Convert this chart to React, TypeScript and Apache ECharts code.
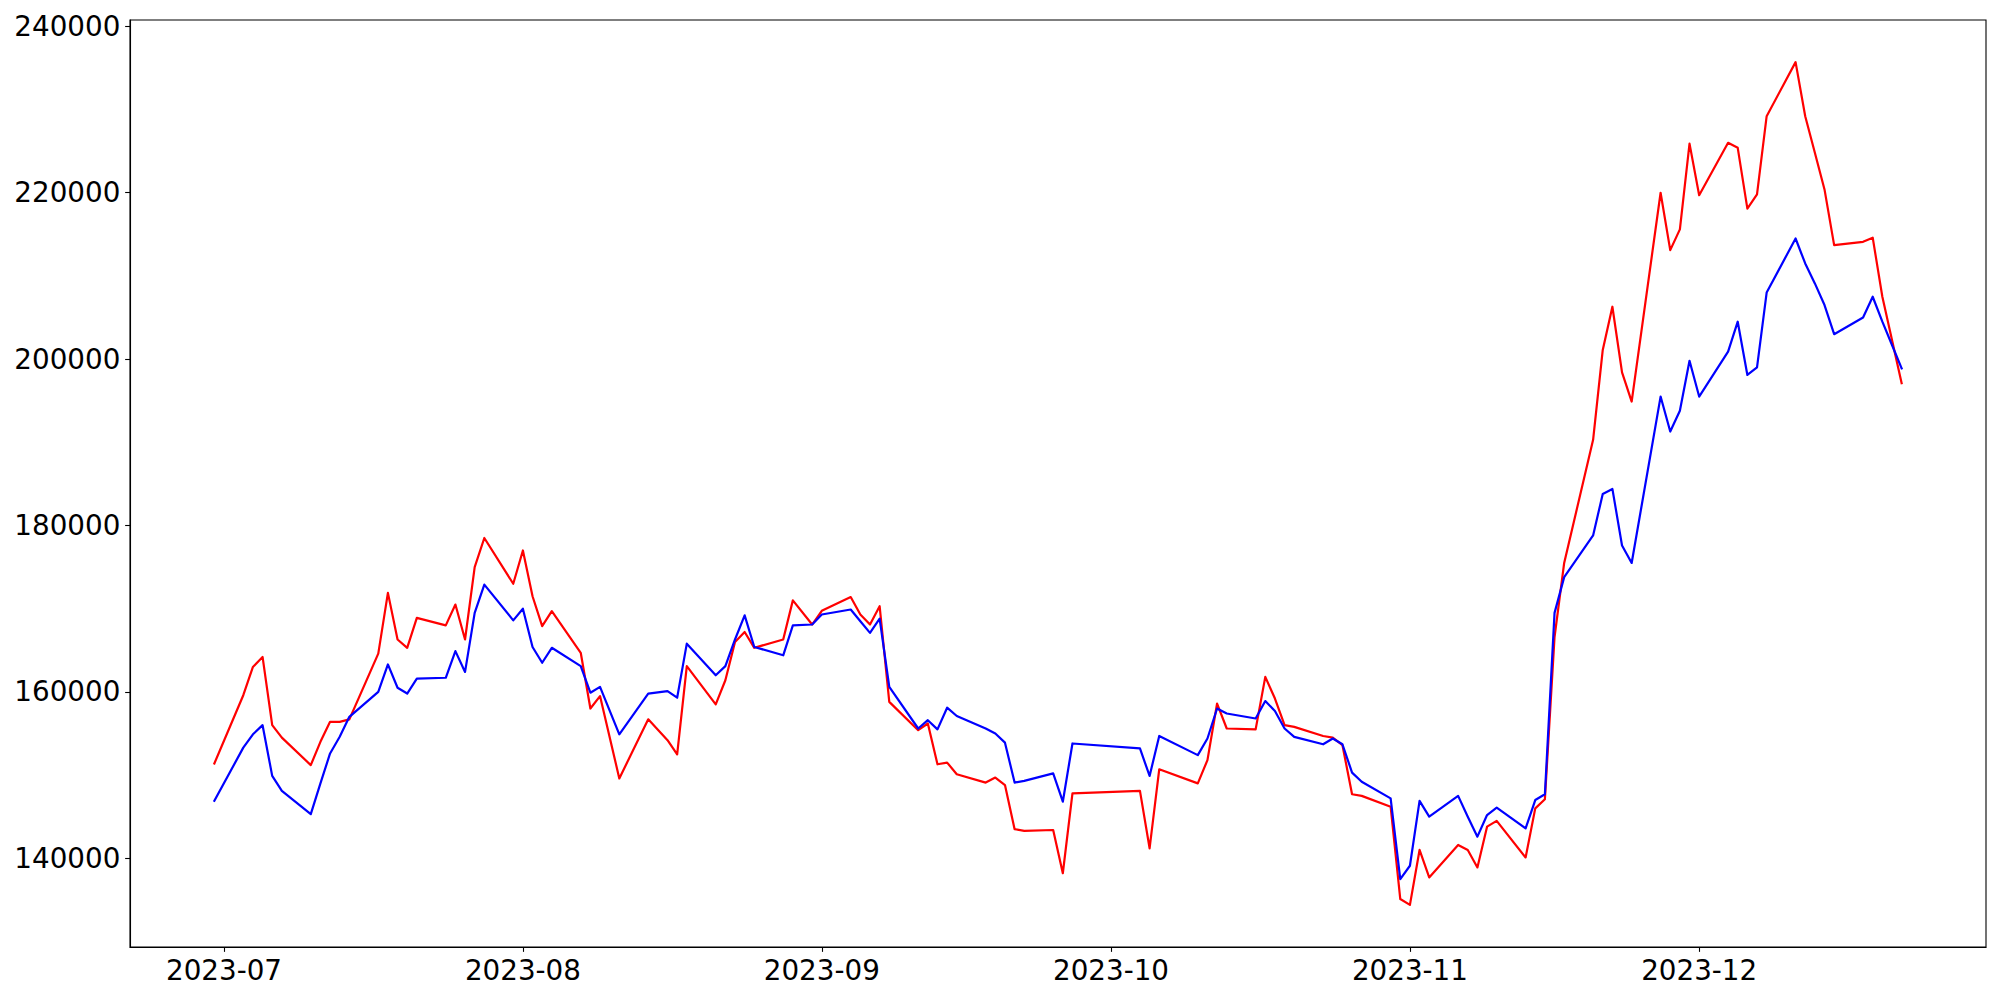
import React, { useEffect, useRef } from "react";
import * as echarts from "echarts";

const dates: string[] = [
  "2023-06-30",
  "2023-07-03", "2023-07-04", "2023-07-05", "2023-07-06", "2023-07-07",
  "2023-07-10", "2023-07-11", "2023-07-12", "2023-07-13", "2023-07-14",
  "2023-07-17", "2023-07-18", "2023-07-19", "2023-07-20", "2023-07-21",
  "2023-07-24", "2023-07-25", "2023-07-26", "2023-07-27", "2023-07-28",
  "2023-07-31", "2023-08-01", "2023-08-02", "2023-08-03", "2023-08-04",
  "2023-08-07", "2023-08-08", "2023-08-09", "2023-08-11",
  "2023-08-14", "2023-08-16", "2023-08-17", "2023-08-18",
  "2023-08-21", "2023-08-22", "2023-08-23", "2023-08-24", "2023-08-25",
  "2023-08-28", "2023-08-29", "2023-08-31", "2023-09-01",
  "2023-09-04", "2023-09-05", "2023-09-06", "2023-09-07", "2023-09-08",
  "2023-09-11", "2023-09-12", "2023-09-13", "2023-09-14", "2023-09-15",
  "2023-09-18", "2023-09-19", "2023-09-20", "2023-09-21", "2023-09-22",
  "2023-09-25", "2023-09-26", "2023-09-27",
  "2023-10-04", "2023-10-05", "2023-10-06",
  "2023-10-10", "2023-10-11", "2023-10-12", "2023-10-13",
  "2023-10-16", "2023-10-17", "2023-10-18", "2023-10-19", "2023-10-20",
  "2023-10-23", "2023-10-24", "2023-10-25", "2023-10-26", "2023-10-27",
  "2023-10-30", "2023-10-31", "2023-11-01", "2023-11-02", "2023-11-03",
  "2023-11-06", "2023-11-07", "2023-11-08", "2023-11-09", "2023-11-10",
  "2023-11-13", "2023-11-14", "2023-11-15", "2023-11-16", "2023-11-17",
  "2023-11-20", "2023-11-21", "2023-11-22", "2023-11-23", "2023-11-24",
  "2023-11-27", "2023-11-28", "2023-11-29", "2023-11-30", "2023-12-01",
  "2023-12-04", "2023-12-05", "2023-12-06", "2023-12-07", "2023-12-08",
  "2023-12-11", "2023-12-12", "2023-12-13", "2023-12-14", "2023-12-15",
  "2023-12-18", "2023-12-19", "2023-12-20", "2023-12-21", "2023-12-22",
];

const redValues: number[] = [
  151400,
  159600, 163000, 164200, 156000, 154500,
  151200, 154000, 156400, 156400, 156700,
  164600, 171900, 166300, 165300, 168900,
  168000, 170500, 166300, 175000, 178500,
  173000, 177000, 171500, 167900, 169700,
  164700, 158000, 159500, 149600,
  156700, 154200, 152500, 163100,
  158500, 161400, 166000, 167200, 165300,
  166300, 171000, 168100, 169750,
  171400, 169300, 168100, 170300, 158800,
  155400, 156200, 151300, 151500, 150100,
  149100, 149700, 148800, 143500, 143300,
  143400, 138200, 147800,
  148100, 141200, 150700,
  149000, 151800, 158600, 155600,
  155500, 161800, 159200, 156000, 155800,
  154700, 154500, 153600, 147700, 147500,
  146200, 135100, 134400, 141000, 137700,
  141600, 141000, 138900, 143800, 144500,
  140100, 146000, 147100, 166600, 175500,
  190300, 201100, 206300, 198400, 194900,
  220000, 213100, 215600, 225900, 219700,
  226000, 225400, 218100, 219800, 229200,
  235700, 229200, 224800, 220400, 213700,
  214100, 214600, 207500, 202300, 197100,
];

const blueValues: number[] = [
  146900,
  153300, 154900, 156000, 149900, 148100,
  145300, 149000, 152600, 154600, 157000,
  160000, 163300, 160500, 159800, 161600,
  161700, 164900, 162400, 169500, 172900,
  168600, 170000, 165400, 163500, 165300,
  163100, 159900, 160600, 154900,
  159800, 160100, 159300, 165800,
  162000, 163100, 166300, 169200, 165400,
  164400, 168000, 168100, 169300,
  169900, 168500, 167100, 168800, 160600,
  155600, 156600, 155500, 158100, 157100,
  155600, 155000, 153900, 149100, 149300,
  150200, 146800, 153800,
  153200, 149900, 154700,
  152400, 154400, 158000, 157400,
  156800, 158900, 157700, 155600, 154600,
  153700, 154400, 153700, 150300, 149200,
  147200, 137500, 139100, 146900, 145000,
  147500, 145000, 142600, 145200, 146100,
  143600, 147000, 147700, 169500, 173800,
  178800, 183800, 184400, 177600, 175500,
  195500, 191300, 193800, 199800, 195500,
  200900, 204500, 198100, 199000, 208000,
  214500, 211500, 209100, 206500, 203000,
  205000, 207500, 204500, 201700, 198900,
];

const yTicks: number[] = [140000, 160000, 180000, 200000, 220000, 240000];
const xTickDates: string[] = ["2023-07-01", "2023-08-01", "2023-09-01", "2023-10-01", "2023-11-01", "2023-12-01"];

const DAY = 86400000;
const parseDay = (s: string): number => {
  const [y, m, d] = s.split("-").map(Number);
  return Date.UTC(y, m - 1, d) / DAY;
};
const formatDay = (v: number): string => {
  const dt = new Date(Math.round(v) * DAY);
  const y = dt.getUTCFullYear();
  const m = dt.getUTCMonth() + 1;
  return `${y}-${m < 10 ? "0" + m : m}`;
};

export default function App() {
  const ref = useRef<HTMLDivElement>(null);

  useEffect(() => {
    if (!ref.current) return;
    const chart = echarts.init(ref.current, undefined, { renderer: "svg" });
    const t0 = parseDay(dates[0]);
    const t1 = parseDay(dates[dates.length - 1]);
    const pad = (t1 - t0) * 0.05;
    const allVals = redValues.concat(blueValues);
    const vMin = Math.min(...allVals);
    const vMax = Math.max(...allVals);
    const vPad = (vMax - vMin) * 0.05;
    const xTicks = xTickDates.map(parseDay);
    const fontSize = 27.78;
    const fontFamily = "DejaVu Sans";

    chart.setOption({
      animation: false,
      backgroundColor: "#ffffff",
      grid: {
        left: 130,
        right: 14,
        top: 20,
        bottom: 53,
        show: true,
        borderColor: "#000000",
        borderWidth: 1.1,
        containLabel: false,
      },
      xAxis: {
        type: "value",
        min: t0 - pad,
        max: t1 + pad,
        scale: true,
        splitLine: { show: false },
        axisLine: { show: true, onZero: false, lineStyle: { color: "#000000", width: 1.1 } },
        axisTick: {
          show: true,
          length: 4.86,
          inside: false,
          lineStyle: { color: "#000000", width: 1.1 },
          customValues: xTicks,
        },
        axisLabel: {
          show: true,
          margin: 9.7,
          color: "#000000",
          fontSize,
          fontFamily,
          customValues: xTicks,
          formatter: (v: number) => formatDay(v),
        },
      },
      yAxis: {
        type: "value",
        min: vMin - vPad,
        max: vMax + vPad,
        scale: true,
        splitLine: { show: false },
        axisLine: { show: true, onZero: false, lineStyle: { color: "#000000", width: 1.1 } },
        axisTick: {
          show: true,
          length: 4.86,
          inside: false,
          lineStyle: { color: "#000000", width: 1.1 },
          customValues: yTicks,
        },
        axisLabel: {
          show: true,
          margin: 9.7,
          color: "#000000",
          fontSize,
          fontFamily,
          customValues: yTicks,
          formatter: (v: number) => String(Math.round(v)),
        },
      },
      series: [
        {
          name: "red",
          type: "line",
          showSymbol: false,
          symbol: "none",
          data: dates.map((d, i) => [parseDay(d), redValues[i]]),
          lineStyle: { color: "#ff0000", width: 2.2, join: "round", cap: "square" },
          itemStyle: { color: "#ff0000" },
        },
        {
          name: "blue",
          type: "line",
          showSymbol: false,
          symbol: "none",
          data: dates.map((d, i) => [parseDay(d), blueValues[i]]),
          lineStyle: { color: "#0000ff", width: 2.2, join: "round", cap: "square" },
          itemStyle: { color: "#0000ff" },
        },
      ],
    });

    return () => chart.dispose();
  }, []);

  return (
    <div
      ref={ref}
      style={{ position: "absolute", left: 0, top: 0, width: 2000, height: 1000, background: "#ffffff" }}
    />
  );
}
